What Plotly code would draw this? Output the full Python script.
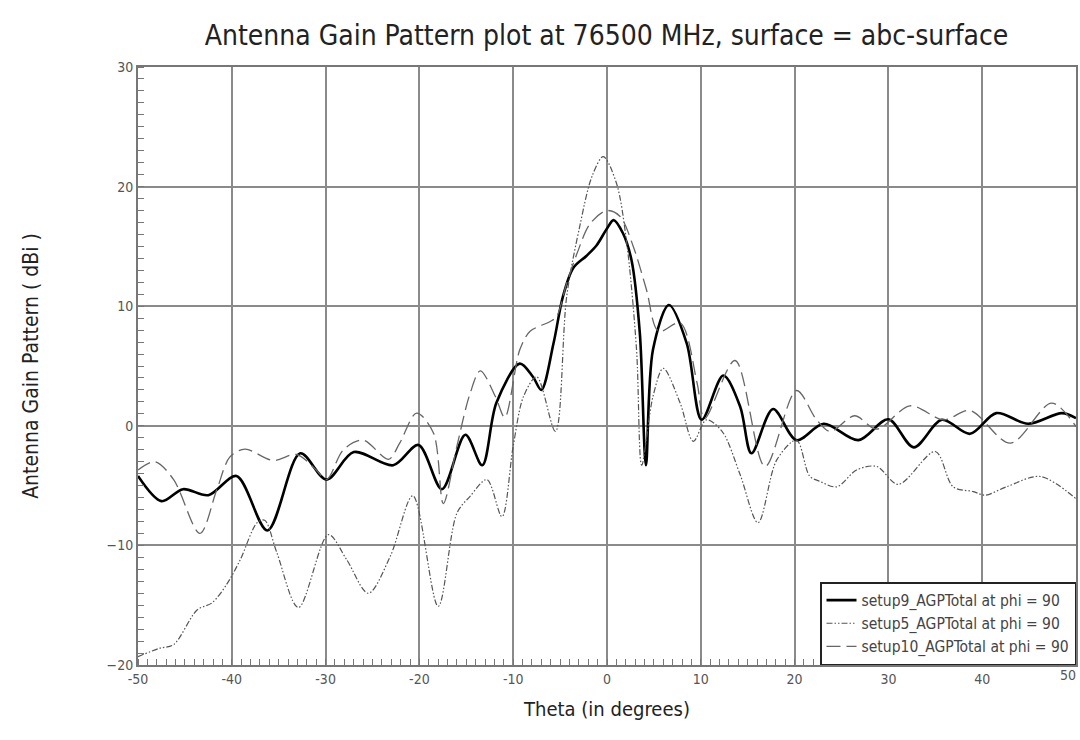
import plotly.graph_objects as go

# ---- data ----
theta9 = [-50, -47.5, -45.2, -42.5, -39.5, -36.2, -32.7, -29.9, -27.0, -22.8,
          -20.1, -17.6, -15.1, -13.3, -11.8, -9.3, -7.9, -7.0, -5.7, -4.7,
          -3.6, -2.2, -1.1, 0, 0.7, 1.7, 2.6, 3.5, 4.15, 4.9,
          6.6, 8.5, 10.1, 12.4, 14.2, 15.4, 17.7, 20.2, 23.1, 26.8,
          30.0, 32.7, 35.7, 38.7, 41.5, 44.9, 48.5, 50]
gain9 = [-4.2, -6.3, -5.3, -5.8, -4.2, -8.75, -2.3, -4.5, -2.2, -3.3,
         -1.6, -5.3, -0.75, -3.3, 1.9, 5.2, 4.1, 3.0, 6.9, 10.8,
         13.2, 14.2, 15.1, 16.5, 17.2, 16.1, 13.9, 7.75, -3.3, 6.35,
         10.1, 6.9, 0.5, 4.2, 1.6, -2.3, 1.4, -1.2, 0.17, -1.2,
         0.55, -1.8, 0.5, -0.67, 1.06, 0.17, 1.06, 0.64]

theta5 = [-50, -47.7, -46.2, -43.7, -42.1, -40.5, -39.1, -37.3, -36.5, -35.2,
          -32.9, -29.7, -27.75, -25.45, -23.1, -20.7, -18.0, -16.0, -14.6, -12.8,
          -11.2, -10.0, -8.9, -7.5, -5.5, -4.3, -2.9, -1.6, -0.4, 1.0,
          2.1, 3.15, 3.7, 4.9, 6.0, 7.8, 9.2, 10.6, 12.3, 14.2,
          16.1, 18.1, 20.2, 21.6, 22.7, 24.5, 26.6, 28.75, 31.05, 35.0,
          36.9, 39.05, 40.3, 42.6, 46.2, 50]
gain5 = [-19.3, -18.6, -18.3, -15.4, -14.8, -13.2, -11.2, -8.1, -7.9, -10.6,
         -15.2, -9.1, -11.2, -14.0, -10.9, -5.85, -15.1, -7.3, -5.9, -4.5,
         -7.6, -1.7, 2.45, 4.1, -0.47, 10.8, 16.7, 20.85, 22.5, 20.3,
         15.3, 6.35, -3.3, 2.45, 4.8, 1.9, -1.3, 0.5, -0.5, -4.1,
         -8.1, -2.85, -1.2, -4.2, -4.65, -5.1, -3.7, -3.4, -4.9, -2.15,
         -5.1, -5.5, -5.8, -5.1, -4.24, -6.1]

theta10 = [-50, -48.2, -46.2, -43.4, -41.6, -40.2, -38.6, -35.6, -33.1, -31.0,
           -29.9, -28.1, -26.0, -23.3, -22.1, -20.3, -18.5, -17.45, -16.0, -14.6,
           -13.5, -11.9, -10.9, -9.3, -8.2, -6.1, -5.4, -4.3, -3.2, -1.8,
           0, 1.4, 2.8, 4.2, 5.5, 7.8, 9.6, 10.4, 13.65, 16.85,
           20.2, 22.35, 23.8, 26.4, 28.75, 32.3, 35.9, 38.7, 43.0, 47.4,
           50]
gain10 = [-3.7, -3.0, -4.5, -9.0, -5.35, -2.6, -1.95, -2.9, -2.4, -3.7,
          -4.5, -2.0, -1.2, -2.8, -1.45, 1.06, -0.6, -6.5, -1.7, 2.7,
          4.6, 2.45, 0.7, 6.35, 7.9, 8.7, 9.1, 11.9, 14.4, 16.9,
          18.0, 17.5, 15.0, 11.4, 7.9, 8.6, 3.6, 0.6, 5.46, -3.4,
          2.95, 0.5, -0.47, 0.84, -0.28, 1.67, 0.5, 1.28, -1.45, 1.9,
          -0.06]

names = ["setup9_AGPTotal at phi = 90",
         "setup5_AGPTotal at phi = 90",
         "setup10_AGPTotal at phi = 90"]
x_ticks = [-50, -40, -30, -20, -10, 0, 10, 20, 30, 40, 50]
y_ticks = [-20, -10, 0, 10, 20, 30]
x_range = [x_ticks[0], x_ticks[-1]]

# all x labels are centred on their ticks except the last one, which is drawn by
# an overlaid axis so that it ends at the right frame (as in the reference)
x_ticktext = [str(v) for v in x_ticks[:-1]] + [""]

FONT = "DejaVu Sans Condensed, DejaVu Sans, Liberation Sans Narrow, sans-serif"
TICKFONT = dict(family=FONT, size=14, color="#555555")

fig = go.Figure()
fig.add_trace(go.Scatter(x=theta9, y=gain9, name=names[0], mode="lines",
                         line=dict(color="#000000", width=2.6, shape="spline", smoothing=0.9)))
fig.add_trace(go.Scatter(x=theta5, y=gain5, name=names[1], mode="lines",
                         line=dict(color="#555555", width=1.2, shape="spline", smoothing=0.9,
                                   dash="6px,2px,1.5px,2px,1.5px,2px")))
fig.add_trace(go.Scatter(x=theta10, y=gain10, name=names[2], mode="lines", xaxis="x2",
                         line=dict(color="#666666", width=1.3, shape="spline", smoothing=0.9,
                                   dash="14px,6px")))

axis_common = dict(
    showgrid=True, gridcolor="#8a8a8a", gridwidth=1.5,
    showline=True, linecolor="#777777", linewidth=2, mirror=True,
    zeroline=False, ticks="", tickfont=TICKFONT,
    ticklabeloverflow="allow", automargin=False,
)

fig.update_xaxes(range=x_range, tickvals=x_ticks, ticktext=x_ticktext, **axis_common,
                 minor=dict(dtick=1, ticks="inside", ticklen=6, tickcolor="#777777", showgrid=False),
                 title=dict(text="Theta (in degrees)", font=dict(family=FONT, size=20, color="#222222"),
                            standoff=16),
                 selector=dict(anchor="y"), overwrite=False)
fig.update_yaxes(range=[-20, 30], tickvals=y_ticks, **axis_common,
                 minor=dict(dtick=1, ticks="inside", ticklen=6, tickcolor="#777777", showgrid=False),
                 title=dict(text="Antenna Gain Pattern ( dBi )", font=dict(family=FONT, size=21, color="#222222"),
                            standoff=62))

fig.update_layout(
    xaxis=dict(range=x_range, tickvals=x_ticks, ticktext=x_ticktext, **axis_common,
               minor=dict(dtick=1, ticks="inside", ticklen=6, tickcolor="#777777", showgrid=False),
               title=dict(text="Theta (in degrees)", font=dict(family=FONT, size=20, color="#222222"),
                          standoff=16)),
    xaxis2=dict(overlaying="x", anchor="y", side="bottom", range=x_range,
                tickvals=[x_ticks[-1]], ticktext=[str(x_ticks[-1])],
                ticklabelposition="outside left", tickfont=TICKFONT,
                showgrid=False, showline=False, zeroline=False, ticks="",
                automargin=False, ticklabeloverflow="allow"),
    width=1080, height=740,
    margin=dict(l=138, r=4, t=67, b=75),
    paper_bgcolor="white", plot_bgcolor="white",
    title=dict(text="Antenna Gain Pattern plot at 76500 MHz, surface = abc-surface",
               font=dict(family=FONT, size=28, color="#222222"),
               x=0.5616, xanchor="center", y=0.953, yanchor="middle"),
    legend=dict(x=1, y=0, xanchor="right", yanchor="bottom",
                bgcolor="white", bordercolor="#222222", borderwidth=1.5,
                font=dict(family=FONT, size=15.5, color="#444444"),
                tracegroupgap=0),
    showlegend=True,
)

# remove the default page margin / scrollbars so the figure sits at the window origin
fig.write_html("out.html",
               config={"displayModeBar": False},
               post_script="document.body.style.margin='0';"
                           "document.body.style.overflow='hidden';"
                           "document.documentElement.style.overflow='hidden';")
